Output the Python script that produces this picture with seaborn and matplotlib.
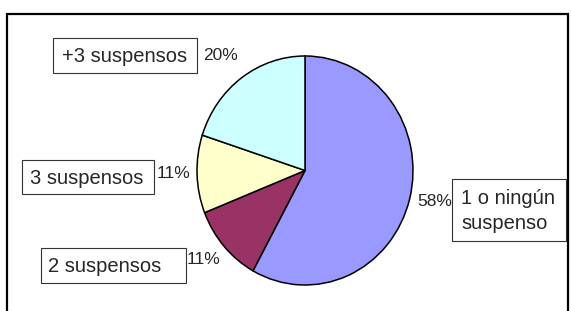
import matplotlib
matplotlib.use('Agg')
import matplotlib.pyplot as plt
from matplotlib.patches import Rectangle
import seaborn as sns

# data
categories = ['1 o ningún\nsuspenso', '2 suspensos', '3 suspensos', '+3 suspensos']
shares = [58, 11, 11, 20]
colors = ['#9999FF', '#993366', '#FFFFCC', '#CCFFFF']

W, H = 571, 311

sns.set_style('white')
plt.rcParams['font.family'] = ['Liberation Sans', 'DejaVu Sans']

fig = plt.figure(figsize=(W / 100, H / 100), dpi=100)


def fx(x):
    return x / W


def fy(y):
    return 1 - y / H


# pie area (Excel chart is slightly stretched vertically)
ax = fig.add_axes([fx(197), fy(285), (413 - 197) / W, (285 - 56) / H])
ax.pie(shares, colors=colors, startangle=90, counterclock=False,
       wedgeprops=dict(edgecolor='black', linewidth=1.1))
ax.set_aspect('auto')
ax.set_xlim(-1, 1)
ax.set_ylim(-1, 1)
ax.axis('off')

# outer chart frame
fig.patches.append(Rectangle((fx(7), fy(330)), fx(568) - fx(7), fy(14) - fy(330),
                             transform=fig.transFigure, fill=False,
                             edgecolor='black', linewidth=1.6))

# label boxes: (box x0, y0, x1, y1), text x, pct x, pct y
layout = [
    ((452, 179, 566, 241), 461, 417, 202),
    ((41, 248, 186, 283), 48, 187, 260),
    ((22, 160, 154, 194), 30, 157, 173),
    ((53, 38, 197, 73), 62, 203, 56),
]

total = sum(shares)
for cat, val, (box, tx, px, py) in zip(categories, shares, layout):
    x0, y0, x1, y1 = box
    fig.patches.append(Rectangle((fx(x0), fy(y1)), fx(x1) - fx(x0), fy(y0) - fy(y1),
                                 transform=fig.transFigure, fill=False,
                                 edgecolor='#333333', linewidth=0.8))
    fig.text(fx(tx), fy((y0 + y1) / 2 + 1), cat, fontsize=14.5, ha='left', va='center',
             linespacing=1.45)
    fig.text(fx(px), fy(py), f'{round(100 * val / total)}%', fontsize=12.5,
             ha='left', va='center')

fig.savefig('out.png', dpi=100)
